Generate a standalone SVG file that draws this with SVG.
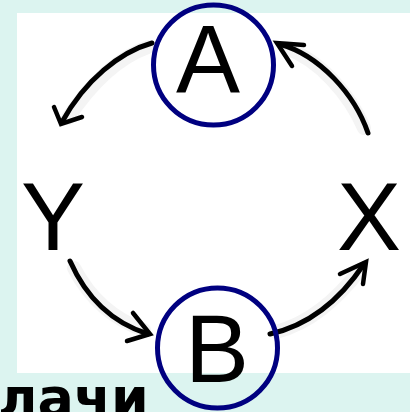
<svg xmlns="http://www.w3.org/2000/svg" width="410" height="412" viewBox="0 0 410 412">
<style>
.bg{fill:#dcf4f0}
.panel{fill:#ffffff}
.ring{fill:none;stroke:#000080;stroke-width:5}
.lbl{font-family:"Liberation Sans",Arial,sans-serif;font-size:96px;fill:#000}
.halo{fill:none;stroke:#f4f4f4;stroke-width:14;stroke-linecap:round}
.arc{fill:none;stroke:#000;stroke-width:5;stroke-linecap:round;stroke-linejoin:round}
.head{fill:none;stroke:#000;stroke-width:4.5;stroke-linecap:round;stroke-linejoin:miter}
.cap{font-family:"DejaVu Sans",Verdana,sans-serif;font-weight:bold;font-size:54px;fill:#000}
</style>
<rect class="bg" x="0" y="0" width="410" height="412"/>
<rect class="panel" x="17" y="13" width="393" height="360"/>
<g id="connectors">
  <path class="halo" d="M148,47 C120,57 92,82 68,118"/>
  <path class="halo" d="M364,128 C350,95 320,60 286,48"/>
  <path class="halo" d="M74,268 C88,295 110,318 144,330"/>
  <path class="halo" d="M276,332 C310,323 336,300 360,270"/>
  <path class="arc" d="M152,43 C120,52 85,80 62,122"/>
  <path class="head" d="M54,107 L61,124 L82,117"/>
  <path class="arc" d="M368,133 C355,95 320,55 279,44"/>
  <path class="head" d="M304,45 L277,43 L292,66"/>
  <path class="arc" d="M70,261 C85,295 110,322 148,334"/>
  <path class="head" d="M133,313 L150,334 L127,341"/>
  <path class="arc" d="M270,334 C310,325 340,300 364,264"/>
  <path class="head" d="M340,274 L366,262 L363,284"/>
</g>
<g id="node-A">
  <circle class="ring" cx="213.5" cy="65" r="60"/>
  <text class="lbl" x="176" y="92" font-size="98">A</text>
</g>
<g id="node-B">
  <circle class="ring" cx="217.5" cy="348" r="60"/>
  <text class="lbl" x="185" y="382">B</text>
</g>
<g id="node-Y">
  <text class="lbl" x="21" y="250">Y</text>
</g>
<g id="node-X">
  <text class="lbl" x="337" y="250">X</text>
</g>
<text class="cap" x="-2" y="416">лачи</text>
</svg>
